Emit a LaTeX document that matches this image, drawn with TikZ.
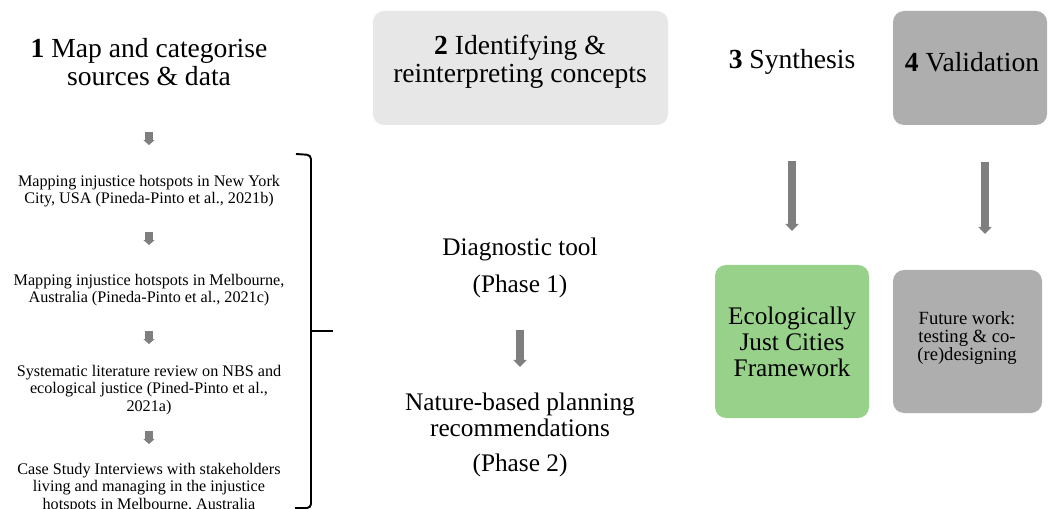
\documentclass[tikz,border=0pt]{standalone}
\usepackage{fontspec}
\setmainfont{Liberation Serif}
\usetikzlibrary{arrows.meta}

\definecolor{boxlight}{RGB}{231,231,231}
\definecolor{boxdark}{RGB}{174,174,174}
\definecolor{boxgreen}{RGB}{151,209,138}
\definecolor{arrowgray}{RGB}{127,127,127}

\begin{document}
\begin{tikzpicture}[x=0.02cm,y=-0.02cm]
\tikzstyle{heading}=[align=center,inner sep=0pt,font=\fontsize{15.7}{15.9}\selectfont]
\tikzstyle{source}=[align=center,inner sep=0pt,font=\fontsize{9.2}{9.9}\selectfont]
\tikzstyle{phase}=[align=center,inner sep=0pt,font=\fontsize{14.4}{14.7}\selectfont]
\tikzstyle{stagebox}=[rounded corners=0.22cm]
\tikzstyle{smallarrow}=[draw=arrowgray,line width=4pt,-{Triangle[width=6.2pt,length=2.8pt]},arrowgray]
\tikzstyle{bigarrow}=[draw=arrowgray,line width=5.1pt,-{Triangle[width=7.4pt,length=4pt]},arrowgray]

\useasboundingbox (0,0) rectangle (1050,509);

%% ========== STAGE HEADINGS ==========
\fill[stagebox,boxlight] (373,11) rectangle (668,125);
\fill[stagebox,boxdark] (893,11) rectangle (1047,125);

\node[heading] (map) at (149,62) {\textbf{1} Map and categorise\\sources \& data};
\node[heading] (ident) at (520,62) {\textbf{2} Identifying \&\\reinterpreting concepts};
\node[heading] (synth) at (792,62) {\textbf{3} Synthesis};
\node[heading] (valid) at (972,62) {\textbf{4} Validation};

%% ========== SOURCES & DATA ==========
\node[source] (nyc) at (149,191) {Mapping injustice hotspots in New York\\City, USA (Pineda-Pinto et al., 2021b)};
\node[source] (melb) at (149,290) {Mapping injustice hotspots in Melbourne,\\Australia (Pineda-Pinto et al., 2021c)};
\node[source] (review) at (149,390) {Systematic literature review on NBS and\\ecological justice (Pined-Pinto et al.,\\2021a)};
\node[source] (cases) at (149,488) {Case Study Interviews with stakeholders\\living and managing in the injustice\\hotspots in Melbourne, Australia};

% small arrows between the sources
\foreach \y [count=\i] in {132,232,331,431} {
    \coordinate (src-top\i) at (149,\y);
    \coordinate (src-bot\i) at (149,\y+13);
    \draw[smallarrow] (src-top\i) -- (src-bot\i);
}

% brace
\draw[line width=1.1pt,rounded corners=0.08cm] (296,154) -- (311,155) -- (311,508) -- (295,508);
\draw[line width=1.1pt] (311,331) -- (333,331);

%% ========== PHASES ==========
\node[phase] (diag) at (520,268) {Diagnostic tool\\[6pt](Phase 1)};
\node[phase] (nbpr) at (520,435) {Nature-based planning\\recommendations\\[5pt](Phase 2)};

\coordinate (diag-out) at (520,330);
\coordinate (nbpr-in) at (520,367);
\draw[bigarrow] (diag-out) -- (nbpr-in);

%% ========== OUTCOMES ==========
\fill[stagebox,boxgreen] (715,265) rectangle (869,418);
\fill[stagebox,boxdark] (893,270) rectangle (1042,413);

\node[phase] (ejcf) at (792,342) {Ecologically\\Just Cities\\Framework};
\node[align=center,inner sep=0pt,font=\fontsize{10.6}{10.5}\selectfont] (future) at (967,338) {Future work:\\testing \& co-\\(re)designing};

\coordinate (synth-out) at (792,161);
\coordinate (ejcf-in) at (792,231);
\coordinate (valid-out) at (985,162);
\coordinate (future-in) at (985,234);
\draw[bigarrow] (synth-out) -- (ejcf-in);
\draw[bigarrow] (valid-out) -- (future-in);

\end{tikzpicture}
\end{document}
